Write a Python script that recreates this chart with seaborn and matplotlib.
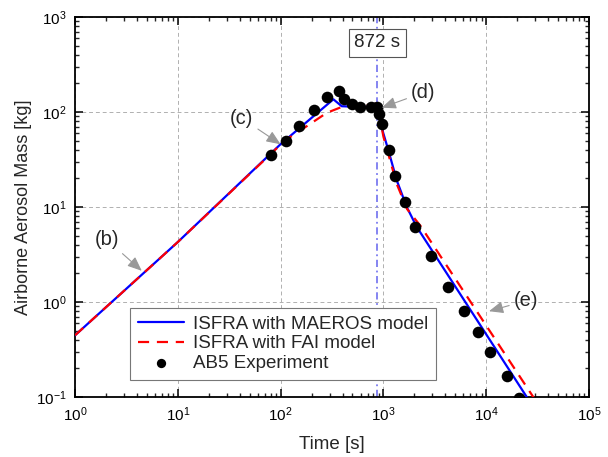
import numpy as np
import pandas as pd
import seaborn as sns
import matplotlib
matplotlib.use("Agg")
import matplotlib.pyplot as plt
from matplotlib.ticker import LogLocator, NullFormatter

# AB5 experiment points
time_exp = [81, 112, 151, 211, 283, 372, 417, 490, 596, 752, 873, 912, 969,
            1126, 1306, 1622, 2043, 2885, 4278, 6040, 8265, 10960, 16040, 20840]
mass_exp = [35.1, 49.4, 71, 104, 145, 167, 137, 122, 112, 113.5, 113.5, 95.8, 74.6,
            39.7, 21.1, 11.4, 6.23, 3.03, 1.44, 0.811, 0.488, 0.297, 0.165, 0.098]

# ISFRA with MAEROS model
time_maeros = [1, 10, 100, 326, 393, 600, 872, 892, 998, 1116, 1347, 1686, 2109, 24780, 30000]
mass_maeros = [0.446, 4.28, 45.9, 136, 115, 113, 114, 96.6, 59.6, 39.7, 19.1, 10.0, 6.17, 0.1, 0.072]

# ISFRA with FAI model
time_fai = [1, 10, 110, 166, 281, 393, 600, 872, 900, 1000, 1347, 1700, 2300, 28500, 32000]
mass_fai = [0.446, 4.28, 50, 67, 98, 113, 115, 123, 100, 55, 17.5, 9.5, 6.3, 0.101, 0.083]

t_mark = 872

sns.set_style("ticks")
plt.rcParams["font.family"] = ["Liberation Sans", "DejaVu Sans"]
plt.rcParams["xtick.direction"] = "in"
plt.rcParams["ytick.direction"] = "in"

fig = plt.figure(figsize=(6.08, 4.57), dpi=100)
ax = fig.add_axes([0.1234, 0.1313, 0.8454, 0.8315])

ax.set_xscale("log")
ax.set_yscale("log")
ax.set_xlim(1, 1e5)
ax.set_ylim(0.1, 1000)

ax.grid(True, which="major", ls=(0, (4, 3)), lw=0.7, color="#b0b0b0")
ax.set_axisbelow(True)

ax.axvline(t_mark, color="#7b7bf0", lw=1.3, ls=(0, (4, 2, 1, 2)), zorder=1.5)

df_m = pd.DataFrame({"t": time_maeros, "m": mass_maeros})
df_f = pd.DataFrame({"t": time_fai, "m": mass_fai})
df_e = pd.DataFrame({"t": time_exp, "m": mass_exp})

sns.lineplot(data=df_m, x="t", y="m", ax=ax, color="#0000ff", lw=1.6,
             label="ISFRA with MAEROS model", sort=False, zorder=3)
sns.lineplot(data=df_f, x="t", y="m", ax=ax, color="#ff0000", lw=1.6,
             label="ISFRA with FAI model", sort=False, zorder=3.5)
ax.lines[-1].set_dashes((5, 3.5))
sns.scatterplot(data=df_e, x="t", y="m", ax=ax, color="black", s=70,
                edgecolor="black", linewidth=0, label="AB5 Experiment", zorder=4)

ax.text(t_mark, 535, "872 s", ha="center", va="center", fontsize=13.5,
        bbox=dict(boxstyle="square,pad=0.3", fc="white", ec="#555555", lw=0.8), zorder=6)

arrow = dict(arrowstyle="-|>,head_length=0.6,head_width=0.25", color="#999999", lw=0.8,
             shrinkA=1, shrinkB=0)
for lab, xy, xyt in [("(b)", (4.46, 2.13), (2.05, 4.5)),
                     ("(c)", (100, 45.7), (41.9, 85.9)),
                     ("(d)", (962, 111), (2443, 160)),
                     ("(e)", (10640, 0.80), (24380, 1.03))]:
    ax.annotate(lab, xy=xy, xytext=xyt, fontsize=14.5, ha="center", va="center",
                arrowprops=arrow, zorder=5)

ax.xaxis.set_major_locator(LogLocator(base=10, numticks=10))
ax.xaxis.set_minor_locator(LogLocator(base=10, subs=np.arange(2, 10), numticks=10))
ax.yaxis.set_minor_locator(LogLocator(base=10, subs=np.arange(2, 10), numticks=10))
ax.xaxis.set_minor_formatter(NullFormatter())
ax.yaxis.set_minor_formatter(NullFormatter())
ax.tick_params(which="major", length=6, width=1.1, top=True, right=True,
               labelsize=11, colors="black", pad=6)
ax.tick_params(which="minor", length=3, width=1.0, top=True, right=True)
for s in ax.spines.values():
    s.set_visible(True)
    s.set_linewidth(1.3)
    s.set_color("black")

ax.set_xlabel("Time [s]", fontsize=13.5, labelpad=9)
ax.set_ylabel("Airborne Aerosol Mass [kg]", fontsize=13, labelpad=3)

leg = ax.legend(loc="lower left", bbox_to_anchor=(0.107, 0.045), borderaxespad=0,
                fontsize=13.5, frameon=True, fancybox=False, framealpha=1,
                edgecolor="#777777", handlelength=2.5, handletextpad=0.45,
                labelspacing=0.15, borderpad=0.4, markerscale=0.8)
leg.get_frame().set_linewidth(0.8)
leg.set_zorder(7)

fig.savefig("out.png", dpi=100)
